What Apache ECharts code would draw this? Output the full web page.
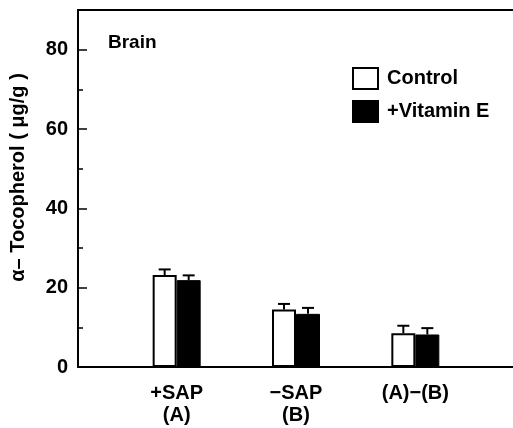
<!DOCTYPE html>
<html><head><meta charset="utf-8">
<script src="https://cdn.jsdelivr.net/npm/echarts@6/dist/echarts.min.js"></script>
<style>html,body{margin:0;padding:0;background:#fff}#c{width:513px;height:428px}</style>
</head><body><div id="c"></div>
<script>
const categories = ['+SAP\n(A)', '−SAP\n(B)', '(A)−(B)'];
const controlValues = [23.2, 14.5, 8.5];
const controlErrTop = [24.6, 15.9, 10.4];
const vitEValues = [21.9, 13.4, 8.2];
const vitEErrTop = [23.1, 14.9, 9.8];
const yTicks = [0, 20, 40, 60, 80];

const font = 'Liberation Sans, Arial, sans-serif';
const chart = echarts.init(document.getElementById('c'));

function errSeries(name, vals, tops, off) {
  return {
    type: 'custom', name: name + ' err', xAxisIndex: 2, yAxisIndex: 1, silent: true,
    data: vals.map((v, i) => [i, v, tops[i]]),
    renderItem: function (params, api) {
      const b = api.coord([api.value(0), api.value(1)]);
      const t = api.coord([api.value(0), api.value(2)]);
      const x = b[0] + off;
      return { type: 'group', children: [
        { type: 'line', shape: { x1: x, y1: b[1], x2: x, y2: t[1] }, style: { stroke: '#000', lineWidth: 2 } },
        { type: 'line', shape: { x1: x - 6, y1: t[1], x2: x + 6, y2: t[1] }, style: { stroke: '#000', lineWidth: 2 } }
      ]};
    },
    z: 5
  };
}

chart.setOption({
  animation: false,
  backgroundColor: '#fff',
  title: { text: 'Brain', left: 108, top: 33, padding: 0, textStyle: { fontFamily: font, fontSize: 19, fontWeight: 'bold', color: '#000' } },
  legend: {
    orient: 'vertical', left: 352, top: 67, padding: 0, itemWidth: 25, itemHeight: 21, itemGap: 10,
    icon: 'rect', data: ['Control', '+Vitamin E'],
    textStyle: { fontFamily: font, fontSize: 20, fontWeight: 'bold', color: '#000', padding: [0, 0, 0, 4] }
  },
  grid: [
    { left: 77, right: 0, top: 10, bottom: 61 },
    { left: 117, right: 38, top: 10, bottom: 61 }
  ],
  xAxis: [
    { type: 'category', gridIndex: 0, data: ['a'], axisLine: { lineStyle: { color: '#000', width: 2 } }, axisTick: { show: false }, axisLabel: { show: false } },
    { type: 'category', gridIndex: 0, position: 'top', data: ['a'], axisLine: { lineStyle: { color: '#000', width: 2 } }, axisTick: { show: false }, axisLabel: { show: false } },
    { type: 'category', gridIndex: 1, data: categories, axisLine: { show: false }, axisTick: { show: false },
      axisLabel: { fontFamily: font, fontSize: 20, fontWeight: 'bold', color: '#000', margin: 15, lineHeight: 22 } }
  ],
  yAxis: [
    { type: 'value', gridIndex: 0, min: 0, max: 90, interval: 20,
      name: 'α– Tocopherol ( μg/g )', nameLocation: 'middle', nameGap: 50, nameRotate: 90,
      nameTextStyle: { fontFamily: font, fontSize: 20, fontWeight: 'bold', color: '#000', padding: [0, 0, 0, 22] },
      axisLine: { show: true, lineStyle: { color: '#000', width: 2 } },
      axisTick: { show: true, inside: true, length: 9, lineStyle: { color: '#000', width: 1.5 } },
      minorTick: { show: true, splitNumber: 2, length: 5, lineStyle: { color: '#000', width: 1.5 } },
      splitLine: { show: false },
      axisLabel: { showMaxLabel: false, margin: 10, fontFamily: font, fontSize: 20, fontWeight: 'bold', color: '#000',
        formatter: v => yTicks.includes(v) ? String(v) : '' } },
    { type: 'value', gridIndex: 1, min: 0, max: 90, show: false }
  ],
  series: [
    { type: 'bar', name: 'Control', xAxisIndex: 2, yAxisIndex: 1, data: controlValues, barWidth: 24, barGap: '0%',
      itemStyle: { color: '#fff', borderColor: '#000', borderWidth: 2 } },
    { type: 'bar', name: '+Vitamin E', xAxisIndex: 2, yAxisIndex: 1, data: vitEValues, barWidth: 24, barGap: '0%',
      itemStyle: { color: '#000', borderColor: '#000', borderWidth: 1 } },
    errSeries('Control', controlValues, controlErrTop, -12),
    errSeries('+Vitamin E', vitEValues, vitEErrTop, 12)
  ]
});
</script></body></html>
